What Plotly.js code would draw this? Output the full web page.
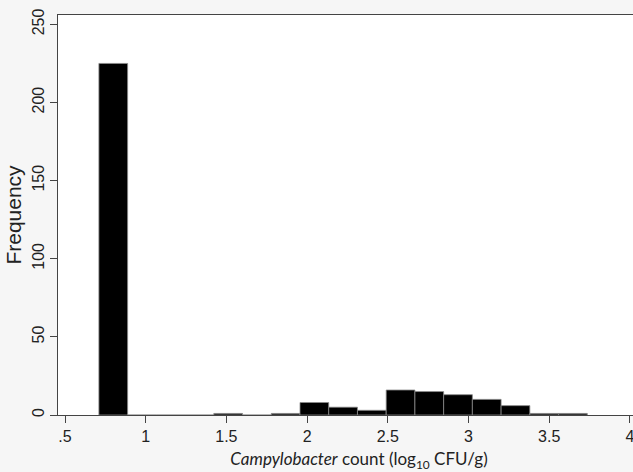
<!DOCTYPE html>
<html>
<head>
<meta charset="utf-8">
<script src="https://cdn.plot.ly/plotly-3.0.1.min.js"></script>
<style>
html,body{margin:0;padding:0;overflow:hidden;background:#f6f6f6;width:633px;height:472px;}
#chart{width:665px;height:472px;}
</style>
</head>
<body>
<div id="chart"></div>
<script>
// Histogram of Campylobacter counts (17 bins, Stata-style)
const binStart = 0.71;       // lowest bin edge
const binWidth = 0.178;      // width of each bin
const frequencies = [225, 0, 0, 0, 1, 0, 1, 8, 5, 3, 16, 15, 13, 10, 6, 1, 1];
const xTickVals = [0.5, 1, 1.5, 2, 2.5, 3, 3.5, 4];
const xTickText = ['.5', '1', '1.5', '2', '2.5', '3', '3.5', '4'];
const yTickVals = [0, 50, 100, 150, 200, 250];

const centers = frequencies.map((_, i) => binStart + binWidth * (i + 0.5));

const trace = {
  type: 'bar',
  x: centers,
  y: frequencies,
  width: frequencies.map(() => binWidth),
  marker: {color: '#000000', line: {color: '#8a8a8a', width: 0.8}},
  hoverinfo: 'x+y'
};

const layout = {
  width: 665,
  height: 472,
  margin: {l: 58, r: 5, t: 15, b: 57},
  paper_bgcolor: '#f6f6f6',
  plot_bgcolor: '#ffffff',
  showlegend: false,
  bargap: 0,
  font: {family: 'Liberation Sans, Arial, sans-serif', color: '#222222'},
  xaxis: {
    range: [0.4566, 4.1865],
    tickmode: 'array',
    tickvals: xTickVals,
    ticktext: xTickText,
    ticks: 'outside',
    ticklen: 7,
    tickcolor: '#444444',
    showgrid: false,
    zeroline: false,
    showline: true,
    mirror: true,
    linecolor: '#444444',
    linewidth: 1,
    tickfont: {size: 16, family: 'Liberation Sans, Arial, sans-serif', color: '#222222'},
    title: {
      text: '<i>Campylobacter</i> count (log<sub>10</sub> CFU/g)',
      font: {size: 17, family: 'Lato, Open Sans, sans-serif', color: '#222222'},
      standoff: 10
    }
  },
  yaxis: {
    range: [0, 256],
    tickmode: 'array',
    tickvals: yTickVals,
    ticks: 'outside',
    ticklen: 7,
    tickcolor: '#444444',
    tickangle: -90,
    showgrid: false,
    zeroline: false,
    showline: true,
    mirror: true,
    linecolor: '#444444',
    linewidth: 1,
    tickfont: {size: 16, family: 'Liberation Sans, Arial, sans-serif', color: '#222222'},
    title: {
      text: 'Frequency',
      font: {size: 21, family: 'Liberation Sans, Arial, sans-serif', color: '#222222'},
      standoff: 2
    }
  }
};

Plotly.newPlot('chart', [trace], layout, {displayModeBar: false, staticPlot: true});
</script>
</body>
</html>
